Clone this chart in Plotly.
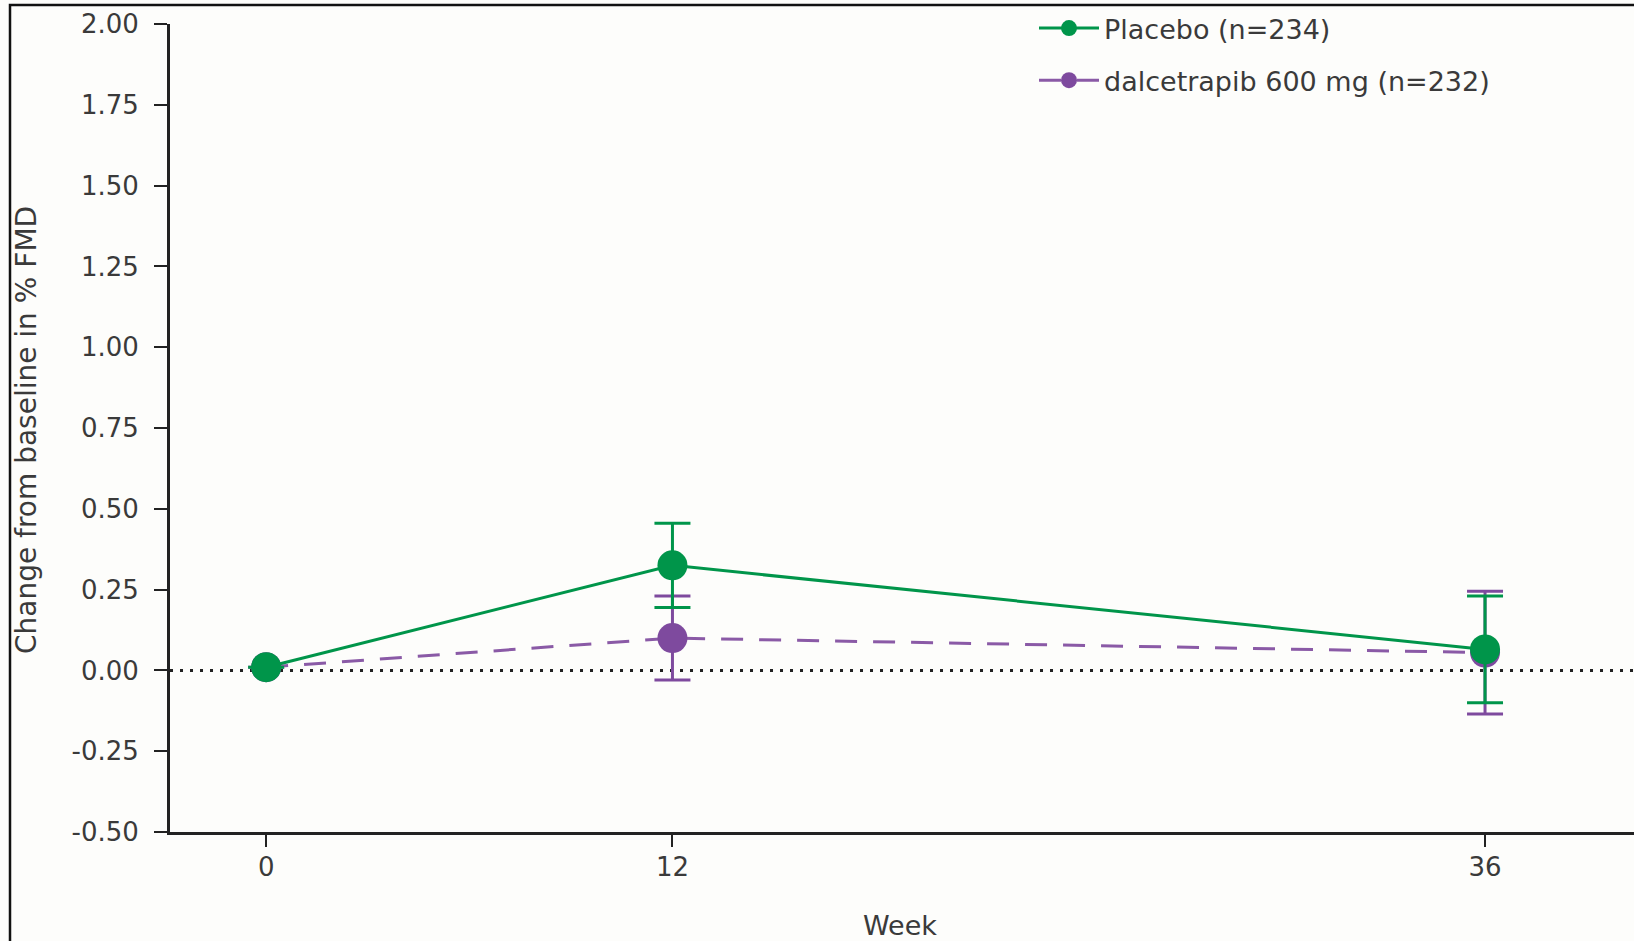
import plotly.graph_objects as go

# ---- data ----
weeks = [0, 12, 36]
placebo_mean = [0.01, 0.325, 0.065]
placebo_err = [None, 0.13, 0.165]
dalce_mean = [0.01, 0.10, 0.055]
dalce_err = [None, 0.13, 0.19]
placebo_name = "Placebo (n=234)"
dalce_name = "dalcetrapib 600 mg (n=232)"
x_ticks = [0, 12, 36]
y_tickvals = [-0.5, -0.25, 0, 0.25, 0.5, 0.75, 1.0, 1.25, 1.5, 1.75, 2.0]
y_ticktext = ["-0.50", "-0.25", "0.00", "0.25", "0.50", "0.75", "1.00", "1.25", "1.50", "1.75", "2.00"]
baseline_value = 0
y_title = "Change from baseline in % FMD"
x_title = "Week"

GREEN = "#00954a"
PURPLE = "#7e4a9e"
FONT = "DejaVu Sans"
TXT = "#3a3a3a"
AX = "#222222"

fig = go.Figure()

fig.add_trace(go.Scatter(
    x=weeks, y=dalce_mean, name=dalce_name, mode="lines+markers",
    legendrank=2, legendgroup="b",
    line=dict(color="#8a5aa6", width=3, dash="22px,16px"),
    marker=dict(color=PURPLE, size=30),
    error_y=dict(type="data", array=dalce_err, visible=True,
                 color=PURPLE, thickness=3, width=18),
))
fig.add_trace(go.Scatter(
    x=weeks, y=placebo_mean, name=placebo_name, mode="lines+markers",
    legendrank=1, legendgroup="a",
    line=dict(color=GREEN, width=3),
    marker=dict(color=GREEN, size=30),
    error_y=dict(type="data", array=placebo_err, visible=True,
                 color=GREEN, thickness=3, width=18),
))

W, H = 1634, 941
L, R, T, B = 170, 0, 24, 109
pw, ph = W - L - R, H - T - B

def px_x(p):
    return (p - L) / pw

def px_y(p):
    return (H - B - p) / ph

fig.update_layout(
    width=W, height=H,
    margin=dict(l=L, r=R, t=T, b=B),
    paper_bgcolor="#fdfdfb", plot_bgcolor="#fdfdfb",
    font=dict(family=FONT, size=26, color=TXT),
    showlegend=True,
    legend=dict(
        x=px_x(1034), y=px_y(4), xanchor="left", yanchor="top",
        font=dict(family=FONT, size=27, color=TXT),
        bgcolor="rgba(0,0,0,0)", itemwidth=60, tracegroupgap=14,
    ),
    xaxis=dict(
        range=[-2.84, 40.4], tickvals=x_ticks, ticktext=[str(v) for v in x_ticks],
        showgrid=False, zeroline=False, showline=True, linewidth=3, linecolor=AX,
        ticks="outside", ticklen=12, tickwidth=2, tickcolor=AX,
        tickfont=dict(family=FONT, size=26, color=TXT), ticklabelstandoff=-2,
    ),
    yaxis=dict(
        range=[-0.5, 2.0], tickvals=y_tickvals, ticktext=y_ticktext,
        showgrid=False, zeroline=False, showline=True, linewidth=3, linecolor=AX,
        ticks="outside", ticklen=13, tickwidth=2, tickcolor=AX,
        tickfont=dict(family=FONT, size=26, color=TXT), ticklabelstandoff=10,
    ),
    shapes=[
        dict(type="line", xref="paper", yref="y", x0=0, x1=1,
             y0=baseline_value, y1=baseline_value, layer="below",
             line=dict(color="#222222", width=3, dash="3px,7px")),
        dict(type="rect", xref="paper", yref="paper",
             x0=px_x(10), x1=px_x(1700), y0=px_y(5), y1=px_y(1000),
             line=dict(color="#111111", width=2.5), fillcolor="rgba(0,0,0,0)"),
    ],
    annotations=[
        dict(text=y_title, xref="paper", yref="paper", x=px_x(26), y=px_y(430),
             xanchor="center", yanchor="middle", textangle=-90, showarrow=False,
             font=dict(family=FONT, size=28, color=TXT)),
        dict(text=x_title, xref="paper", yref="paper", x=px_x(900), y=px_y(925),
             xanchor="center", yanchor="middle", showarrow=False,
             font=dict(family=FONT, size=27, color=TXT)),
    ],
)

fig.write_html("out.html", config={"displayModeBar": False},
               post_script="document.body.style.margin='0';document.body.style.overflow='hidden';")
